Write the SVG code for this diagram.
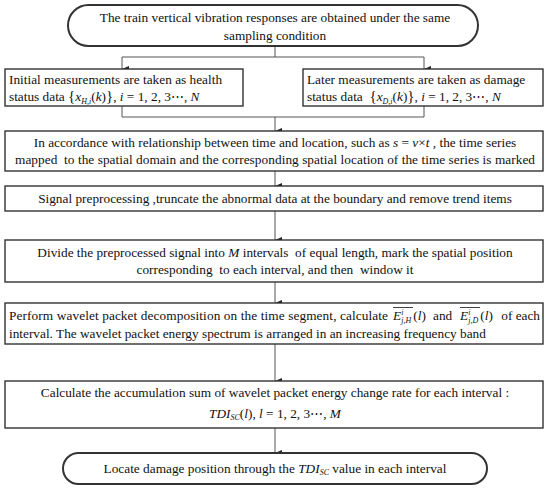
<svg xmlns="http://www.w3.org/2000/svg" width="550" height="491" viewBox="0 0 550 491">
<defs>
<marker id="arr" markerWidth="6" markerHeight="7" refX="3" refY="7" orient="auto" markerUnits="userSpaceOnUse" viewBox="0 0 6 7">
<path d="M0,0 L6,0 L3,7 Z" fill="#222"/>
</marker>
</defs>
<style>
text{font-family:"Liberation Serif","Times New Roman",serif;font-size:13.3px;fill:#111;white-space:pre}
.c{text-anchor:middle}
.e{text-anchor:end}
.i{font-style:italic}
.box{fill:#fff;stroke:#333;stroke-width:1.4}
.rbox{fill:#fff;stroke:#333;stroke-width:2}
.con{fill:none;stroke:#555;stroke-width:1}
.sub{font-size:8px;font-style:italic}
.ol{stroke:#111;stroke-width:0.8}
</style>
<rect width="550" height="491" fill="#fff"/>
<g id="connectors">
<polyline class="con" points="275,45 275,57"/>
<polyline class="con" points="122,57 424,57"/>
<line class="con" x1="122" y1="57" x2="122" y2="69" marker-end="url(#arr)"/>
<line class="con" x1="424" y1="57" x2="424" y2="69" marker-end="url(#arr)"/>
<polyline class="con" points="122,106 122,117 424,117 424,106"/>
<line class="con" x1="275" y1="117" x2="275" y2="131" marker-end="url(#arr)"/>
<line class="con" x1="275" y1="171" x2="275" y2="186" marker-end="url(#arr)"/>
<line class="con" x1="275" y1="211" x2="275" y2="240" marker-end="url(#arr)"/>
<line class="con" x1="275" y1="282" x2="275" y2="303" marker-end="url(#arr)"/>
<line class="con" x1="275" y1="344" x2="275" y2="381" marker-end="url(#arr)"/>
<line class="con" x1="275" y1="428" x2="275" y2="453" marker-end="url(#arr)"/>
</g>
<g id="n1">
<rect class="rbox" x="68" y="5" width="410" height="41" rx="20.5"/>
<text class="c" x="275" y="22">The train vertical vibration responses are obtained under the same</text>
<text class="c" x="275" y="40">sampling condition</text>
</g>
<g id="n2">
<rect class="box" x="5" y="69" width="238" height="37"/>
<text x="9" y="84">Initial measurements are taken as health</text>
<text x="9" y="101">status data <tspan font-size="15">{</tspan><tspan class="i">x</tspan><tspan class="sub" dy="3">H,i</tspan><tspan dy="-3">(</tspan><tspan class="i">k</tspan>)<tspan font-size="15">}</tspan>, <tspan class="i">i</tspan> = 1, 2, 3⋯, <tspan class="i">N</tspan></text>
</g>
<g id="n3">
<rect class="box" x="303" y="69" width="240" height="37"/>
<text x="307" y="84">Later measurements are taken as damage</text>
<text x="307" y="101">status data  <tspan font-size="15">{</tspan><tspan class="i">x</tspan><tspan class="sub" dy="3">D,i</tspan><tspan dy="-3">(</tspan><tspan class="i">k</tspan>)<tspan font-size="15">}</tspan>, <tspan class="i">i</tspan> = 1, 2, 3⋯, <tspan class="i">N</tspan></text>
</g>
<g id="n4">
<rect class="box" x="5" y="131" width="538" height="40"/>
<text class="c" x="275" y="147">In accordance with relationship between time and location, such as <tspan class="i">s</tspan> = <tspan class="i">v</tspan>×<tspan class="i">t</tspan> , the time series</text>
<text class="c" x="275" y="164" textLength="520" lengthAdjust="spacing">mapped  to the spatial domain and the corresponding spatial location of the time series is marked</text>
</g>
<g id="n5">
<rect class="box" x="5" y="186" width="538" height="25"/>
<text class="c" x="275" y="203">Signal preprocessing ,truncate the abnormal data at the boundary and remove trend items</text>
</g>
<g id="n6">
<rect class="box" x="5" y="240" width="538" height="42"/>
<text class="c" x="275" y="257">Divide the preprocessed signal into <tspan class="i">M</tspan> intervals  of equal length, mark the spatial position</text>
<text class="c" x="275" y="274">corresponding  to each interval, and then  window it</text>
</g>
<g id="n7">
<rect class="box" x="5" y="303" width="538" height="41"/>
<text x="9" y="320" textLength="379" lengthAdjust="spacing">Perform wavelet packet decomposition on the time segment, calculate</text>
<text x="393" y="320"><tspan class="i">E</tspan><tspan class="sub" dx="0" dy="-5">i</tspan><tspan class="sub" dx="-2" dy="8">j,H</tspan><tspan dy="-3" dx="2">(</tspan><tspan class="i">l</tspan>)</text>
<text x="433" y="320">and</text>
<text x="460" y="320"><tspan class="i">E</tspan><tspan class="sub" dx="0" dy="-5">i</tspan><tspan class="sub" dx="-2" dy="8">j,D</tspan><tspan dy="-3" dx="2">(</tspan><tspan class="i">l</tspan>)</text>
<text class="e" x="540" y="320">of each</text>
<text x="9" y="338">interval. The wavelet packet energy spectrum is arranged in an increasing frequency band</text>
<line class="ol" x1="393" y1="307.5" x2="413" y2="307.5"/>
<line class="ol" x1="460" y1="307.5" x2="480" y2="307.5"/>
</g>
<g id="n8">
<rect class="box" x="5" y="381" width="538" height="47"/>
<text class="c" x="275" y="397">Calculate the accumulation sum of wavelet packet energy change rate for each interval :</text>
<text class="c" x="275" y="418"><tspan class="i">TDI</tspan><tspan class="sub" dy="2">SC</tspan><tspan dy="-2">(</tspan><tspan class="i">l</tspan>), <tspan class="i">l</tspan> = 1, 2, 3⋯, <tspan class="i">M</tspan></text>
</g>
<g id="n9">
<rect class="rbox" x="63" y="453" width="424" height="31" rx="15.5"/>
<text class="c" x="275" y="473">Locate damage position through the <tspan class="i">TDI</tspan><tspan class="sub" dy="2">SC</tspan><tspan dy="-2"> value in each interval</tspan></text>
</g>
</svg>
